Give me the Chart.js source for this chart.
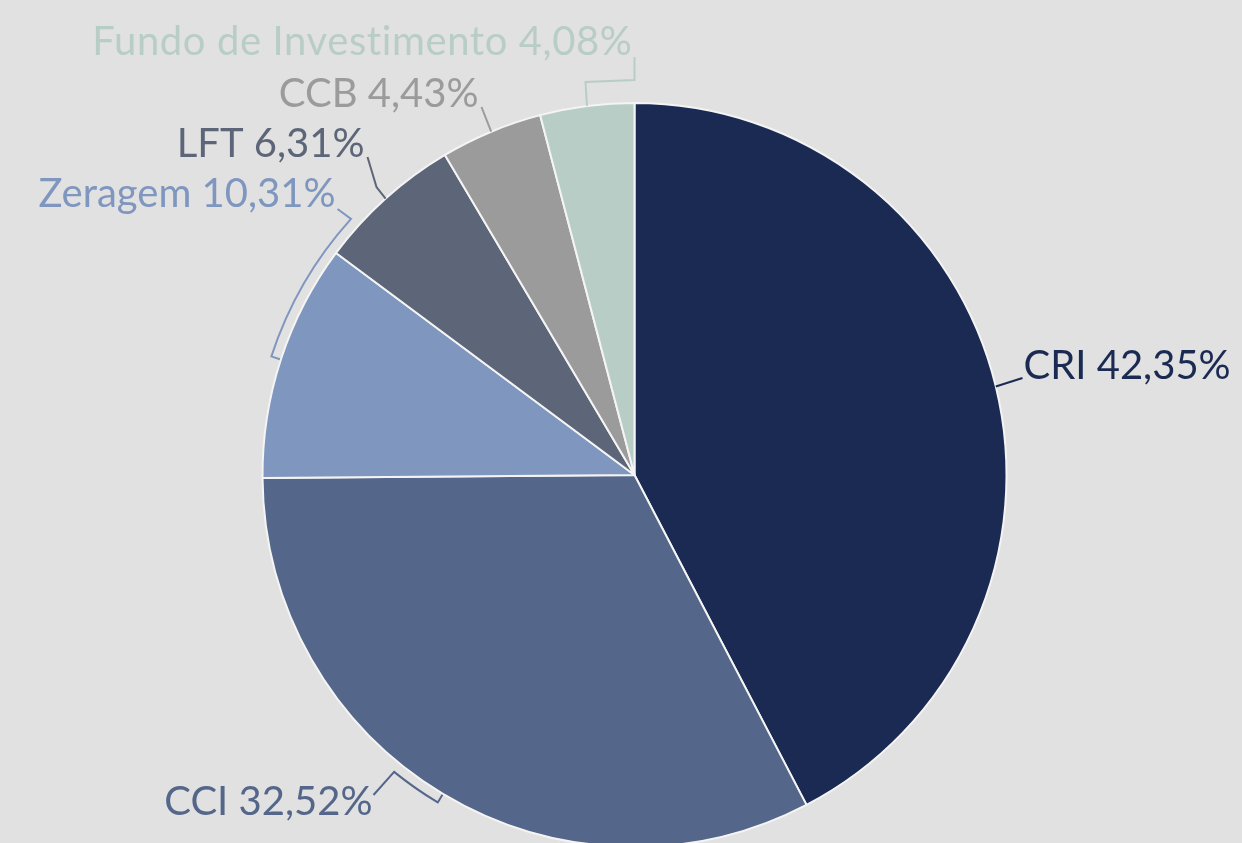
<!DOCTYPE html>
<html>
<head>
<meta charset="utf-8">
<script src="https://cdn.jsdelivr.net/npm/chart.js@4/dist/chart.umd.min.js"></script>
<style>
  html, body { margin: 0; padding: 0; background: #e1e1e1; overflow: hidden; }
  canvas { display: block; }
</style>
</head>
<body>
<canvas id="c" width="1242" height="851"></canvas>
<script>
const categories = ['CRI', 'CCI', 'Zeragem', 'LFT', 'CCB', 'Fundo de Investimento'];
const values = [42.35, 32.52, 10.31, 6.31, 4.43, 4.08];
const sliceColors = ['#1b2a52', '#546689', '#7f96bf', '#5d6678', '#9b9b9b', '#b8cdc5'];

// label layout (offsets from pie center, baseline), alignment
const labelLayout = [
  { align: 'left',  dx: 389,  dy: -96,  spacing: '0px' },
  { align: 'right', dx: -262, dy: 340,  spacing: '0px' },
  { align: 'right', dx: -299, dy: -268, spacing: '0px' },
  { align: 'right', dx: -270, dy: -318, spacing: '0px' },
  { align: 'right', dx: -156, dy: -368, spacing: '0px' },
  { align: 'right', dx: -2,   dy: -420, spacing: '0.6px' }
];

function fmt(v) { return v.toFixed(2).replace('.', ',') + '%'; }

const labelPlugin = {
  id: 'excelLabels',
  afterDraw(chart) {
    const ctx = chart.ctx;
    const meta = chart.getDatasetMeta(0);
    const deg = Math.PI / 180;
    ctx.save();
    meta.data.forEach((arc, i) => {
      const cx = arc.x, cy = arc.y, R = arc.outerRadius;
      const mid = (arc.startAngle + arc.endAngle) / 2;
      const P = (a, r) => [cx + r * Math.cos(a), cy + r * Math.sin(a)];
      const C = (dx, dy) => [cx + dx, cy + dy];
      ctx.strokeStyle = sliceColors[i];
      ctx.fillStyle = sliceColors[i];
      ctx.lineWidth = 2;
      ctx.lineJoin = 'miter';
      ctx.beginPath();
      const moveLine = (pts) => { pts.forEach((p, k) => k ? ctx.lineTo(p[0], p[1]) : ctx.moveTo(p[0], p[1])); };
      if (i === 0) {
        moveLine([P(mid, R), C(388, -97)]);
      } else if (i === 1) {
        moveLine([P(mid, R + 1), P(mid, R + 10)]);
        ctx.arc(cx, cy, R + 10, mid, mid + 8 * deg, false);
        const e = C(-261, 320);
        ctx.lineTo(e[0], e[1]);
      } else if (i === 2) {
        moveLine([P(mid, R + 1), P(mid, R + 10)]);
        ctx.arc(cx, cy, R + 10, mid, mid + 24 * deg, false);
        const e = C(-297, -266);
        ctx.lineTo(e[0], e[1]);
      } else if (i === 3) {
        moveLine([P(mid, R), C(-258, -288), C(-267, -318)]);
      } else if (i === 4) {
        moveLine([P(mid, R), C(-153, -368)]);
      } else if (i === 5) {
        moveLine([P(mid, R), C(-49, -393), C(0, -395), C(0, -418)]);
      }
      ctx.stroke();

      const L = labelLayout[i];
      ctx.font = '40px Lato';
      if ('letterSpacing' in ctx) ctx.letterSpacing = L.spacing;
      ctx.textAlign = L.align;
      ctx.textBaseline = 'alphabetic';
      ctx.fillText(categories[i] + ' ' + fmt(values[i]), cx + L.dx, cy + L.dy);
    });
    ctx.restore();
  }
};

new Chart(document.getElementById('c'), {
  type: 'pie',
  data: {
    labels: categories,
    datasets: [{
      data: values,
      backgroundColor: sliceColors,
      borderColor: '#f4f4f4',
      borderWidth: 2
    }]
  },
  options: {
    responsive: false,
    animation: false,
    layout: { padding: { left: 261, right: 234, top: 102, bottom: 3 } },
    plugins: { legend: { display: false }, tooltip: { enabled: false } }
  },
  plugins: [labelPlugin]
});
</script>
</body>
</html>
